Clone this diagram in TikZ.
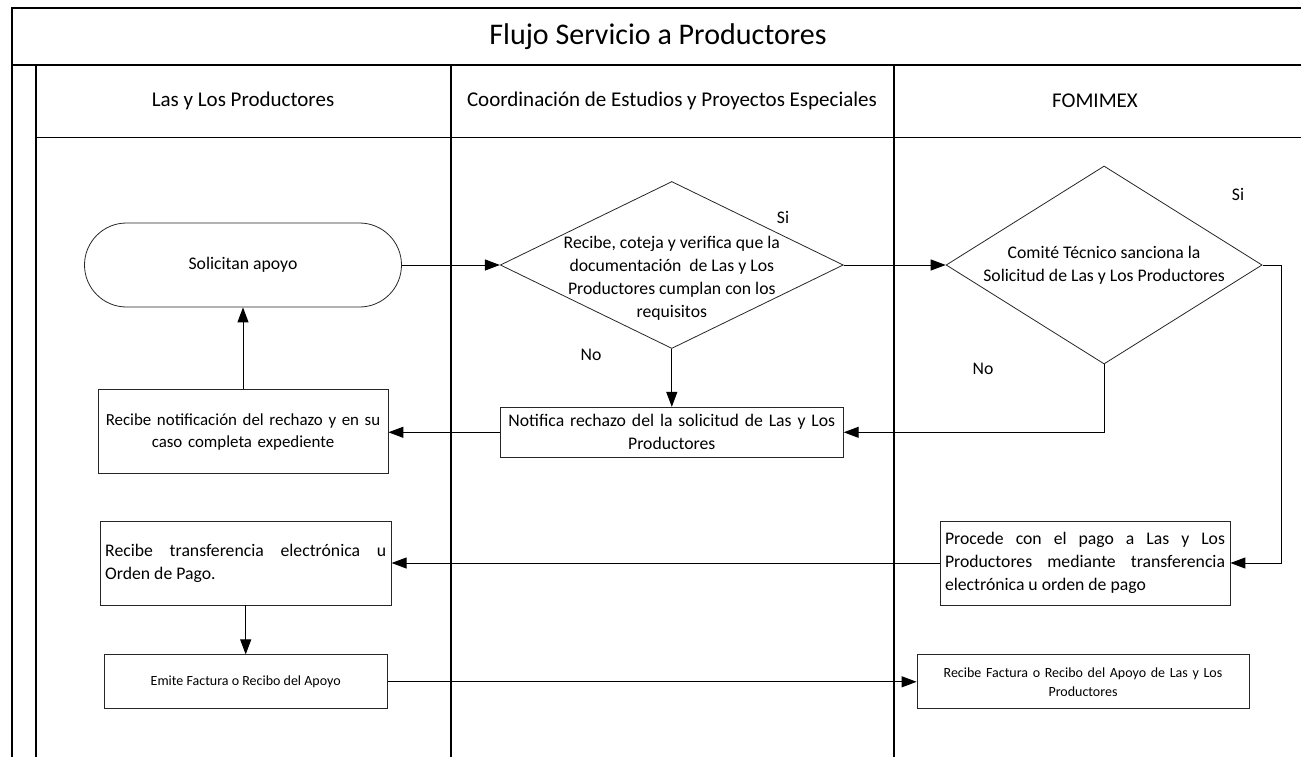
\documentclass[tikz,border=0pt]{standalone}
\usepackage{fontspec}
\setmainfont{Carlito}
\usetikzlibrary{positioning}
\usetikzlibrary{arrows.meta}
\usetikzlibrary{shapes.geometric}

\tikzset{
   frame/.style = {line width=1.5pt},
   flow/.style  = {line width=1pt, -{Triangle[length=15pt,width=11pt]}},
   bodytext/.style  = {font=\fontsize{17.7pt}{23pt}\selectfont},
   smalltext/.style = {font=\fontsize{14pt}{19pt}\selectfont},
}

\begin{document}
\begin{tikzpicture}[x=1pt, y=-1pt,
         process/.style  = {draw=black!85, line width=0.8pt, bodytext,
                            inner xsep=5pt, inner ysep=0pt},
         terminal/.style = {process, rounded corners=42pt,
                            minimum width=317pt, minimum height=84pt},
         decision/.style = {diamond, draw=black!85, line width=0.8pt,
                            inner sep=0pt}
]

      \useasboundingbox (0,0) rectangle (1301,757);

      % marco y carriles
      \draw[frame] (12,757) -- (12,8) -- (1301,8);
      \draw[frame] (12,65) -- (1301,65);
      \draw[frame] (36,65) -- (36,757);
      \draw[frame] (451,65) -- (451,757);
      \draw[frame] (894,65) -- (894,757);
      \draw[line width=1pt] (36,138) -- (1301,138);

      \node[font=\fontsize{30pt}{36pt}\selectfont] (titulo) at (658,37)
         {Flujo Servicio a Productores};
      \node[font=\fontsize{21pt}{25pt}\selectfont] (carril1) at (243,101)
         {Las y Los Productores};
      \node[font=\fontsize{21pt}{25pt}\selectfont] (carril2) at (672,101)
         {Coordinación de Estudios y Proyectos Especiales};
      \node[font=\fontsize{21pt}{25pt}\selectfont] (carril3) at (1095,101)
         {FOMIMEX};

      % productores
      \node[terminal] (solicitan) at (243,265) {Solicitan apoyo};
      \node[process, below=82pt of solicitan, minimum width=290pt,
            minimum height=84pt, inner xsep=0pt, text width=290pt,
            align=center, font=\fontsize{16.9pt}{22pt}\selectfont] (recnot)
         {Recibe notificación del rechazo y en su\\caso completa expediente};

      % coordinacion
      \node[decision, right=98pt of solicitan, minimum width=343pt,
            minimum height=167pt] (d1) {};
      \node[bodytext, align=center] (d1text) at ([yshift=-13pt]d1.center)
         {Recibe, coteja y verifica que la\\documentación~ de Las y Los\\
          Productores cumplan con los\\requisitos};
      \node[process, below=58pt of d1, minimum width=343pt,
            minimum height=50pt, text width=333pt, align=center] (notifica)
         {Notifica rechazo del la solicitud de Las y Los\\Productores};

      % fomimex
      \node[decision, right=102pt of d1, minimum width=316pt,
            minimum height=198pt] (d2) {};
      \node[bodytext, align=center] (d2text) at (d2.center)
         {Comité Técnico sanciona la\\Solicitud de Las y Los Productores};
      \node[process, minimum width=290pt, minimum height=84pt,
            text width=280pt, align=justify] (procede) at (1085,563)
         {Procede con el pago a Las y Los\linebreak Productores mediante
          transferencia\linebreak electrónica u orden de pago};

      % pago
      \node[process, left=548pt of procede, minimum width=291pt,
            minimum height=84pt, text width=281pt, align=justify] (rectrans)
         {Recibe transferencia electrónica u\linebreak Orden de Pago.};
      \node[process, smalltext, below=49pt of rectrans, minimum width=283pt,
            minimum height=54pt] (emite) {Emite Factura o Recibo del Apoyo};
      \node[process, smalltext, right=529pt of emite, minimum width=332pt,
            minimum height=54pt, text width=322pt, align=center] (recfac)
         {Recibe Factura o Recibo del Apoyo de Las y Los\\Productores};

      % etiquetas
      \node[bodytext] (si1) at (783,217) {Si};
      \node[bodytext] (no1) at (591,355) {No};
      \node[bodytext] (si2) at (1238,194) {Si};
      \node[bodytext] (no2) at (983,369) {No};

      \coordinate[right=19pt of d2.east] (sibend);

      % conectores
      \draw[flow] (solicitan) -- (d1);
      \draw[flow] (d1) -- (d2);
      \draw[flow] (d1) -- (notifica);
      \draw[flow] (d2.south) |- (notifica.east);
      \draw[flow] (notifica) -- (notifica -| recnot.east);
      \draw[flow] (recnot) -- (solicitan);
      \draw[flow] (d2.east) -- (sibend) |- (procede.east);
      \draw[flow] (procede) -- (rectrans);
      \draw[flow] (rectrans.south -| emite.north) -- (emite);
      \draw[flow] (emite) -- (recfac);

\end{tikzpicture}
\end{document}
